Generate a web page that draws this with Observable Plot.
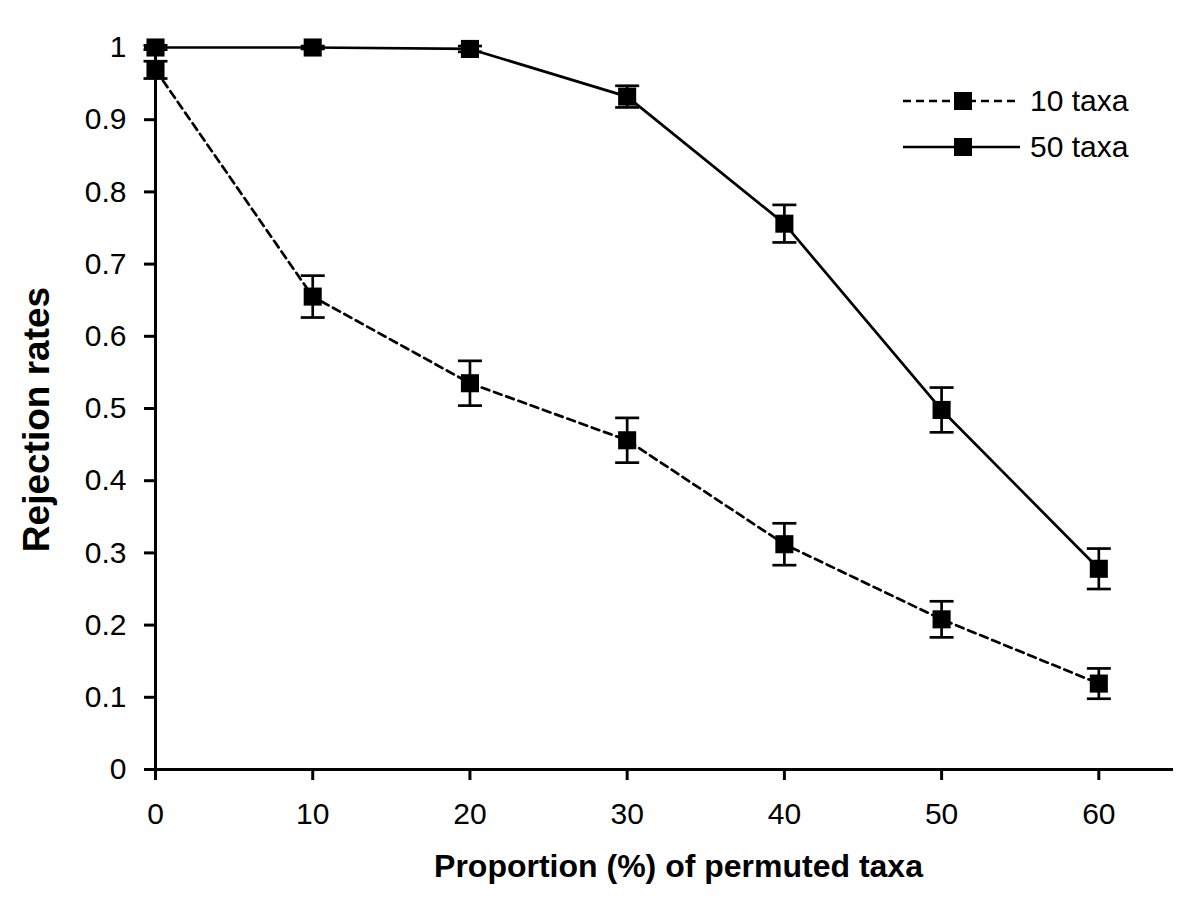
<!DOCTYPE html>
<html>
<head>
<meta charset="utf-8">
<script src="https://cdn.jsdelivr.net/npm/d3@7"></script>
<script src="https://cdn.jsdelivr.net/npm/@observablehq/plot@0.6"></script>
<style>
  html, body { margin: 0; padding: 0; background: #fff; }
  #wrap { position: relative; width: 1200px; height: 914px; }
  #legend { position: absolute; left: 895px; top: 78px; font-family: "Liberation Sans", Arial, sans-serif; font-size: 30px; color: #000; }
  .item { display: flex; align-items: center; height: 46px; }
  .item svg { display: block; margin-right: 9px; }
</style>
</head>
<body>
<div id="wrap"><div id="legend"></div></div>
<script>
// Data
const proportions = [0, 10, 20, 30, 40, 50, 60];
const seriesNames = ["10 taxa", "50 taxa"];
const taxa10 = [0.969, 0.655, 0.535, 0.456, 0.312, 0.208, 0.119];
const err10  = [0.012, 0.029, 0.031, 0.031, 0.029, 0.025, 0.021];
const taxa50 = [1.0, 1.0, 0.998, 0.932, 0.756, 0.498, 0.278];
const err50  = [0.003, 0.002, 0.004, 0.015, 0.026, 0.031, 0.028];
const xTicks = [0, 10, 20, 30, 40, 50, 60];
const yTicks = [0, 0.1, 0.2, 0.3, 0.4, 0.5, 0.6, 0.7, 0.8, 0.9, 1];
const xLabel = "Proportion (%) of permuted taxa";
const yLabel = "Rejection rates";

const dashes = {"10 taxa": "8,5", "50 taxa": null};

const rows = [];
proportions.forEach((p, i) => {
  rows.push({series: "10 taxa", x: p, y: taxa10[i], lo: taxa10[i] - err10[i], hi: taxa10[i] + err10[i]});
});
proportions.forEach((p, i) => {
  rows.push({series: "50 taxa", x: p, y: taxa50[i], lo: taxa50[i] - err50[i], hi: taxa50[i] + err50[i]});
});
const r10 = rows.filter(d => d.series === "10 taxa");
const r50 = rows.filter(d => d.series === "50 taxa");

const capSymbol = {
  draw(context) {
    context.moveTo(-12, 0);
    context.lineTo(12, 0);
  }
};

const W = 2.7;

const chart = Plot.plot({
  width: 1200,
  height: 914,
  marginLeft: 155,
  marginRight: 27,
  marginTop: 47,
  marginBottom: 145,
  x: {domain: [0, 64.75]},
  y: {domain: [0, 1]},
  style: {fontFamily: "'Liberation Sans', Arial, sans-serif", fontSize: "30px", color: "#000", background: "#fff"},
  marks: [
    Plot.axisX(xTicks, {tickSize: 11, tickPadding: 22, strokeWidth: 3, label: null, fontSize: 30}),
    Plot.axisY(yTicks, {tickSize: 11, tickPadding: 18, strokeWidth: 3, label: null, fontSize: 30, tickFormat: d => String(d)}),
    Plot.ruleY([0], {strokeWidth: 3}),
    Plot.ruleX([0], {y1: 0, y2: 1, strokeWidth: 3}),
    Plot.line(r10, {x: "x", y: "y", stroke: "#000", strokeWidth: W, strokeDasharray: dashes["10 taxa"]}),
    Plot.line(r50, {x: "x", y: "y", stroke: "#000", strokeWidth: W}),
    Plot.ruleX(rows, {x: "x", y1: "lo", y2: "hi", stroke: "#000", strokeWidth: W}),
    Plot.dot(rows, {x: "x", y: "lo", symbol: capSymbol, stroke: "#000", strokeWidth: W, fill: "none"}),
    Plot.dot(rows, {x: "x", y: "hi", symbol: capSymbol, stroke: "#000", strokeWidth: W, fill: "none"}),
    Plot.dot(rows, {x: "x", y: "y", symbol: "square", r: 10.2, fill: "#000", stroke: null}),
    Plot.text([xLabel], {frameAnchor: "bottom", lineAnchor: "middle", textAnchor: "middle", dx: 14, dy: 97, fontWeight: "bold", fontSize: 32}),
    Plot.text([yLabel], {frameAnchor: "left", lineAnchor: "middle", textAnchor: "middle", rotate: -90, dx: -118, dy: 11, fontWeight: "bold", fontSize: 37})
  ]
});
document.getElementById("wrap").prepend(chart);

// Legend
const legend = d3.select("#legend");
seriesNames.forEach(name => {
  const item = legend.append("div").attr("class", "item");
  const svg = item.append("svg").attr("width", 126).attr("height", 24);
  svg.append("line").attr("x1", 8).attr("x2", 125).attr("y1", 12).attr("y2", 12)
    .attr("stroke", "#000").attr("stroke-width", W)
    .attr("stroke-dasharray", dashes[name]);
  svg.append("rect").attr("x", 59).attr("y", 3).attr("width", 18).attr("height", 18).attr("fill", "#000");
  item.append("span").text(name);
});
</script>
</body>
</html>
